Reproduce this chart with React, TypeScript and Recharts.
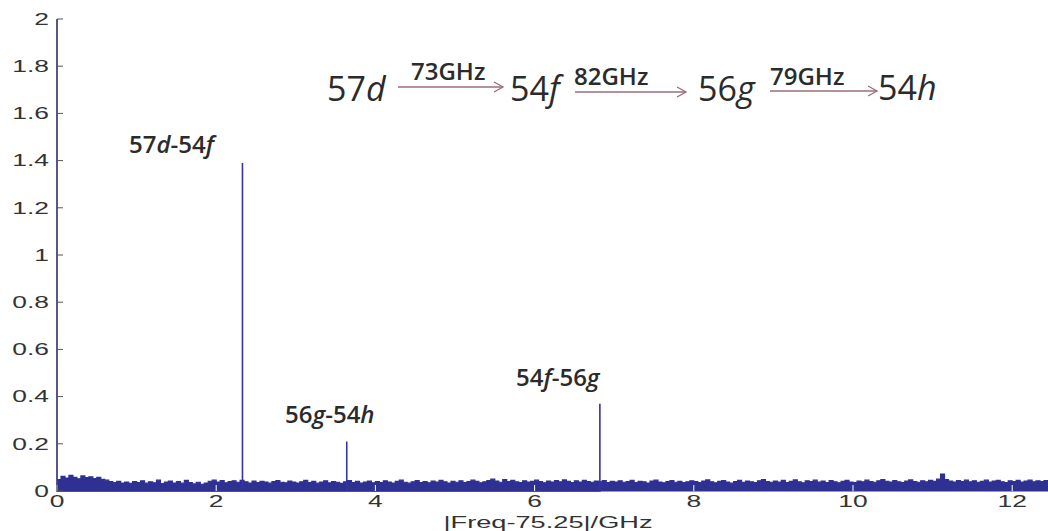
import React from "react"
import { ComposedChart, Area, Line, XAxis, YAxis } from "recharts"

// spectrum amplitude, |Freq-75.25| sampled every 0.05 GHz from 0
const noiseStep = 0.05
const noiseLevel = [
  0.048, 0.062, 0.055, 0.066, 0.058, 0.052, 0.064, 0.057, 0.06, 0.053, 0.058, 0.049, 0.046, 0.04, 0.036, 0.041, 0.034, 0.038, 0.032, 0.04,
  0.036, 0.043, 0.033, 0.039, 0.035, 0.046, 0.031, 0.038, 0.042, 0.034, 0.04, 0.033, 0.045, 0.036, 0.03, 0.037, 0.028, 0.034, 0.041, 0.046,
  0.038, 0.044, 0.035, 0.04, 0.043, 0.037, 0.045, 0.039, 0.034, 0.042, 0.036, 0.041, 0.038, 0.033, 0.04, 0.044, 0.037, 0.035, 0.042, 0.038,
  0.034, 0.039, 0.045, 0.036, 0.041, 0.033, 0.038, 0.043, 0.035, 0.04, 0.037, 0.032, 0.039, 0.044, 0.036, 0.041, 0.034, 0.038, 0.042, 0.035,
  0.04, 0.036, 0.043, 0.038, 0.034, 0.041, 0.046, 0.037, 0.033, 0.039, 0.044, 0.036, 0.04, 0.035, 0.042, 0.038, 0.045, 0.039, 0.034, 0.041,
  0.037, 0.043, 0.036, 0.04, 0.046, 0.041, 0.035, 0.039, 0.044, 0.05, 0.042, 0.037, 0.048, 0.04, 0.045, 0.039, 0.036, 0.043, 0.038, 0.041,
  0.046, 0.04, 0.035, 0.042, 0.038, 0.044, 0.039, 0.047, 0.041, 0.036, 0.043, 0.038, 0.045, 0.04, 0.037, 0.042, 0.039, 0.044, 0.036, 0.041,
  0.038, 0.043, 0.037, 0.04, 0.045, 0.036, 0.041, 0.039, 0.034, 0.042, 0.046, 0.038, 0.035, 0.04, 0.044, 0.037, 0.041, 0.036, 0.039, 0.043,
  0.04, 0.036, 0.042, 0.047, 0.039, 0.035, 0.041, 0.044, 0.038, 0.033, 0.04, 0.045, 0.037, 0.042, 0.039, 0.036, 0.043, 0.048, 0.04, 0.037,
  0.042, 0.038, 0.045, 0.036, 0.041, 0.047, 0.039, 0.035, 0.043, 0.04, 0.046, 0.038, 0.042, 0.036, 0.044, 0.039, 0.035, 0.041, 0.045, 0.038,
  0.036, 0.042, 0.039, 0.046, 0.04, 0.037, 0.043, 0.048, 0.041, 0.038, 0.044, 0.039, 0.036, 0.042, 0.047, 0.04, 0.037, 0.043, 0.039, 0.045,
  0.041, 0.05, 0.072, 0.048, 0.042, 0.038, 0.044, 0.04, 0.046, 0.039, 0.043, 0.037, 0.041, 0.046, 0.038, 0.042, 0.045, 0.039, 0.036, 0.043,
  0.04, 0.045, 0.038, 0.042, 0.046, 0.039, 0.043, 0.04, 0.044, 0.041, 0.042,
]

// resonance lines (GHz offset, amplitude)
const peakFreq = [0, 2.33, 3.64, 6.82]
const peakHeight = [2, 1.39, 0.21, 0.37]

const xTicks = [0, 2, 4, 6, 8, 10, 12]
const yTicks = [0, 0.2, 0.4, 0.6, 0.8, 1, 1.2, 1.4, 1.6, 1.8, 2]

const noise = noiseLevel.map((v, i) => ({ f: +(i * noiseStep).toFixed(2), v }))
const peakTrace = peakFreq.flatMap((f, i) => [
  { f, v: 0 },
  { f, v: peakHeight[i] },
  { f, v: 0 },
])

const BLUE = "#2e3192"
const AXIS = "#555"
const tickFont = "'Liberation Sans', Arial, sans-serif"
const noteFont = "'Open Sans', sans-serif"
const INK = "#2b2b2b"
const ARROW = "#9c6b7c"

const XTick = ({ x, y, payload }: any) => (
  <text
    x={x}
    y={y}
    dy="0.71em"
    textAnchor="middle"
    fontSize={16}
    fontFamily={tickFont}
    fill="#333"
    transform={`translate(${x} 0) scale(1.65 1) translate(${-x} 0)`}
  >
    {payload.value}
  </text>
)

const YTick = ({ x, y, payload }: any) => (
  <text
    x={x}
    y={y}
    dy="0.36em"
    textAnchor="end"
    fontSize={16}
    fontFamily={tickFont}
    fill="#333"
    transform={`translate(${x} 0) scale(1.65 1) translate(${-x} 0)`}
  >
    {payload.value}
  </text>
)

function Arrow({ x1, x2, y }: { x1: number; x2: number; y: number }) {
  return (
    <g stroke={ARROW} strokeWidth={1.3} fill="none">
      <line x1={x1} y1={y} x2={x2} y2={y} />
      <path d={`M${x2 - 9},${y - 5} L${x2},${y} L${x2 - 9},${y + 5}`} />
    </g>
  )
}

function Notes() {
  return (
    <svg width={1048} height={531} style={{ position: "absolute", left: 0, top: 0, pointerEvents: "none" }}>
      <g fontFamily={noteFont} fill={INK}>
        <text x={327} y={101} fontSize={34}>
          57<tspan fontStyle="italic">d</tspan>
        </text>
        <text x={411} y={80} fontSize={24} fontWeight={600}>73GHz</text>
        <Arrow x1={398} x2={503} y={87} />
        <text x={510} y={101} fontSize={34}>
          54<tspan fontStyle="italic">f</tspan>
        </text>
        <text x={574} y={85} fontSize={24} fontWeight={600}>82GHz</text>
        <Arrow x1={575} x2={686} y={92} />
        <text x={698} y={101} fontSize={34}>
          56<tspan fontStyle="italic">g</tspan>
        </text>
        <text x={770} y={85} fontSize={24} fontWeight={600}>79GHz</text>
        <Arrow x1={770} x2={877} y={91} />
        <text x={878} y={100} fontSize={34}>
          54<tspan fontStyle="italic">h</tspan>
        </text>

        <text x={129} y={153} fontSize={24} fontWeight={600}>
          57<tspan fontStyle="italic">d</tspan>-54<tspan fontStyle="italic">f</tspan>
        </text>
        <text x={285} y={423} fontSize={24} fontWeight={600}>
          56<tspan fontStyle="italic">g</tspan>-54<tspan fontStyle="italic">h</tspan>
        </text>
        <text x={516} y={386} fontSize={24} fontWeight={600}>
          54<tspan fontStyle="italic">f</tspan>-56<tspan fontStyle="italic">g</tspan>
        </text>
      </g>
      <text
        x={548}
        y={528}
        textAnchor="middle"
        fontSize={17}
        fontFamily={tickFont}
        fill="#333"
        transform="translate(548 0) scale(1.6 1) translate(-548 0)"
      >
        |Freq-75.25|/GHz
      </text>
    </svg>
  )
}

export default function App() {
  return (
    <div style={{ position: "absolute", left: 0, top: 0, width: 1048, height: 531, overflow: "hidden", background: "#fff" }}>
      <ComposedChart width={1060} height={531} margin={{ top: 19, right: 8, bottom: 0, left: 0 }}>
        <XAxis
          xAxisId="bottom"
          type="number"
          dataKey="f"
          domain={[0, 12.5]}
          ticks={xTicks}
          height={40}
          tickSize={-6}
          tickMargin={11}
          tick={<XTick />}
          axisLine={{ stroke: BLUE }}
          tickLine={{ stroke: "#ffffff" }}
        />
        <XAxis
          xAxisId="top"
          orientation="top"
          type="number"
          dataKey="f"
          domain={[0, 12.5]}
          ticks={xTicks}
          height={0}
          tickSize={-5}
          tick={false}
          axisLine={{ stroke: "#6d6d6d" }}
          tickLine={{ stroke: "#6d6d6d" }}
        />
        <YAxis
          yAxisId="left"
          type="number"
          domain={[0, 2]}
          ticks={yTicks}
          width={57}
          tickSize={-6}
          tickMargin={14}
          tick={<YTick />}
          axisLine={{ stroke: AXIS }}
          tickLine={{ stroke: AXIS }}
        />
        <YAxis
          yAxisId="right"
          orientation="right"
          type="number"
          domain={[0, 2]}
          ticks={yTicks}
          width={0}
          tickSize={-6}
          tick={false}
          axisLine={{ stroke: AXIS }}
          tickLine={{ stroke: AXIS }}
        />
        <Area
          xAxisId="bottom"
          yAxisId="left"
          data={noise}
          dataKey="v"
          type="stepAfter"
          stroke={BLUE}
          strokeWidth={1.2}
          fill={BLUE}
          fillOpacity={1}
          baseValue={0}
          dot={false}
          activeDot={false}
          isAnimationActive={false}
        />
        <Line
          xAxisId="bottom"
          yAxisId="left"
          data={peakTrace}
          dataKey="v"
          type="linear"
          stroke="#3434a2"
          strokeWidth={1.6}
          dot={false}
          activeDot={false}
          isAnimationActive={false}
        />
      </ComposedChart>
      <Notes />
    </div>
  )
}
